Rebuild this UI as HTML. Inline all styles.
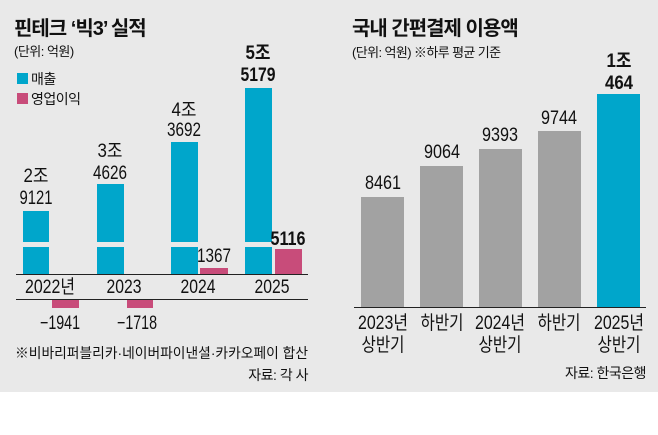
<!DOCTYPE html>
<html><head><meta charset="utf-8"><style>
body{margin:0;width:658px;height:430px;background:#fff;overflow:hidden}
svg text{font-family:"Liberation Sans","Noto Sans CJK KR",sans-serif;fill:#111}
</style></head><body>
<svg width="658" height="430" xmlns="http://www.w3.org/2000/svg">
<rect x="0" y="0" width="658" height="392" fill="#e9e9e9"/>
<!-- left -->
<text x="14" y="35" font-size="20" font-weight="bold" letter-spacing="-1">핀테크 ‘빅3’ 실적</text>
<text x="14" y="56" font-size="13" fill="#333" letter-spacing="-0.5">(단위: 억원)</text>
<rect x="17" y="73" width="11" height="11" fill="#00a6cb"/>
<text x="31" y="84" font-size="14" letter-spacing="-0.5">매출</text>
<rect x="17" y="93" width="11" height="11" fill="#c84c7a"/>
<text x="31" y="104" font-size="14" letter-spacing="-0.5">영업이익</text>
<g fill="#00a6cb">
<rect x="23" y="211" width="26" height="63"/>
<rect x="97" y="184" width="27" height="90"/>
<rect x="171" y="142" width="27" height="132"/>
<rect x="245" y="88" width="27" height="186"/>
</g>
<rect x="16" y="242" width="292" height="5" fill="#e9e9e9"/>
<g fill="#c84c7a">
<rect x="200" y="268" width="28" height="6"/>
<rect x="275" y="249" width="27" height="25"/>
<rect x="52" y="299" width="27" height="9"/>
<rect x="127" y="299" width="26" height="9"/>
</g>
<line x1="16" y1="274.5" x2="308" y2="274.5" stroke="#222" stroke-width="1"/>
<line x1="16" y1="299.5" x2="308" y2="299.5" stroke="#222" stroke-width="1"/>
<g font-size="19" text-anchor="middle" lengthAdjust="spacingAndGlyphs">
<text x="36" y="182" textLength="25" lengthAdjust="spacingAndGlyphs">2조</text><text x="36" y="204" textLength="33" lengthAdjust="spacingAndGlyphs">9121</text>
<text x="110" y="157" textLength="25" lengthAdjust="spacingAndGlyphs">3조</text><text x="110" y="179" textLength="34" lengthAdjust="spacingAndGlyphs">4626</text>
<text x="184" y="116" textLength="25" lengthAdjust="spacingAndGlyphs">4조</text><text x="184" y="136" textLength="34" lengthAdjust="spacingAndGlyphs">3692</text>
<text x="258" y="59" font-weight="bold" textLength="25" lengthAdjust="spacingAndGlyphs">5조</text><text x="258" y="81" font-weight="bold" textLength="35" lengthAdjust="spacingAndGlyphs">5179</text>
<text x="214" y="262" textLength="34" lengthAdjust="spacingAndGlyphs">1367</text>
<text x="288" y="245" font-weight="bold" textLength="35" lengthAdjust="spacingAndGlyphs">5116</text>
<text x="60" y="329" textLength="40" lengthAdjust="spacingAndGlyphs">−1941</text>
<text x="137" y="329" textLength="40" lengthAdjust="spacingAndGlyphs">−1718</text>
<text x="50" y="293" textLength="50" lengthAdjust="spacingAndGlyphs">2022년</text>
<text x="124" y="293" textLength="35" lengthAdjust="spacingAndGlyphs">2023</text>
<text x="198" y="293" textLength="35" lengthAdjust="spacingAndGlyphs">2024</text>
<text x="272" y="293" textLength="35" lengthAdjust="spacingAndGlyphs">2025</text>
</g>
<text x="15" y="358" font-size="14" textLength="293" lengthAdjust="spacingAndGlyphs">※비바리퍼블리카·네이버파이낸셜·카카오페이 합산</text>
<text x="308" y="380" font-size="14" text-anchor="end" letter-spacing="-0.5">자료: 각 사</text>
<!-- right -->
<text x="352" y="35" font-size="20" font-weight="bold" letter-spacing="-1">국내 간편결제 이용액</text>
<text x="352" y="57" font-size="13" fill="#333" letter-spacing="-0.6">(단위: 억원) ※하루 평균 기준</text>
<g fill="#a2a2a2">
<rect x="361" y="197" width="43" height="110"/>
<rect x="420" y="166" width="43" height="141"/>
<rect x="479" y="149" width="43" height="158"/>
<rect x="538" y="131" width="43" height="176"/>
</g>
<rect x="597" y="94" width="43" height="213" fill="#00a6cb"/>
<line x1="354" y1="307.5" x2="646" y2="307.5" stroke="#222" stroke-width="1"/>
<g font-size="19" text-anchor="middle">
<text x="383" y="189" textLength="36" lengthAdjust="spacingAndGlyphs">8461</text>
<text x="442" y="158" textLength="36" lengthAdjust="spacingAndGlyphs">9064</text>
<text x="500" y="141" textLength="36" lengthAdjust="spacingAndGlyphs">9393</text>
<text x="559" y="124" textLength="36" lengthAdjust="spacingAndGlyphs">9744</text>
<text x="619" y="67" font-weight="bold" textLength="25" lengthAdjust="spacingAndGlyphs">1조</text>
<text x="619" y="89" font-weight="bold" textLength="28" lengthAdjust="spacingAndGlyphs">464</text>
<text x="383" y="329" textLength="50" lengthAdjust="spacingAndGlyphs">2023년</text><text x="383" y="351" textLength="43" lengthAdjust="spacingAndGlyphs">상반기</text>
<text x="442" y="329" textLength="43" lengthAdjust="spacingAndGlyphs">하반기</text>
<text x="500" y="329" textLength="50" lengthAdjust="spacingAndGlyphs">2024년</text><text x="500" y="351" textLength="43" lengthAdjust="spacingAndGlyphs">상반기</text>
<text x="559" y="329" textLength="43" lengthAdjust="spacingAndGlyphs">하반기</text>
<text x="619" y="329" textLength="50" lengthAdjust="spacingAndGlyphs">2025년</text><text x="619" y="351" textLength="43" lengthAdjust="spacingAndGlyphs">상반기</text>
</g>
<text x="646" y="378" font-size="14" text-anchor="end" letter-spacing="-0.5">자료: 한국은행</text>
</svg>
</body></html>
